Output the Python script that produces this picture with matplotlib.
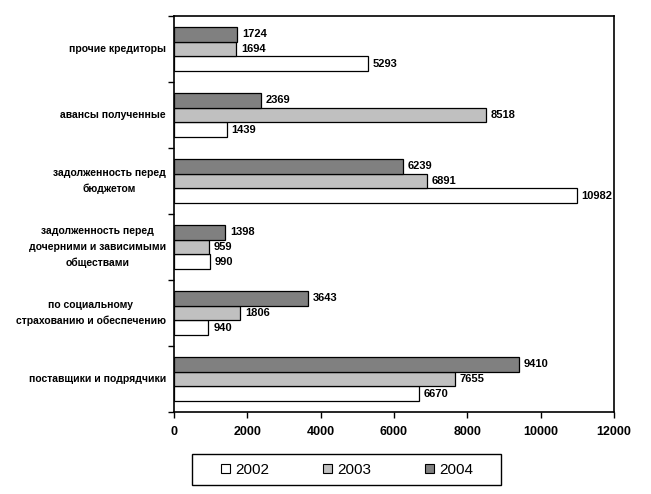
import matplotlib
matplotlib.use("Agg")
import matplotlib.pyplot as plt
import numpy as np
from matplotlib.patches import Patch, Rectangle

categories = [
    "прочие кредиторы",
    "авансы полученные",
    "задолженность перед\nбюджетом",
    "задолженность перед\nдочерними и зависимыми\nобществами",
    "по социальному\nстрахованию и обеспечению",
    "поставщики и подрядчики",
]
years = ["2002", "2003", "2004"]
v2002 = [5293, 1439, 10982, 990, 940, 6670]
v2003 = [1694, 8518, 6891, 959, 1806, 7655]
v2004 = [1724, 2369, 6239, 1398, 3643, 9410]
xticks = [0, 2000, 4000, 6000, 8000, 10000, 12000]

colors = ["#ffffff", "#c0c0c0", "#808080"]
plt.rcParams['font.family'] = ['Liberation Sans', 'DejaVu Sans']

W, H = 651, 494
fig = plt.figure(figsize=(W/100, H/100), dpi=100)
ax = fig.add_axes([174/W, 1-412/H, (614-174)/W, (412-16)/H])

n = len(categories)
pos = np.arange(n)  # 0 at top
h = 0.222
offsets = {"2004": -h, "2003": 0.0, "2002": h}
series = {"2002": v2002, "2003": v2003, "2004": v2004}
for yr, col in zip(years, colors):
    vals = series[yr]
    y = pos + offsets[yr]
    ax.barh(y, vals, height=h, color=col, edgecolor="black", linewidth=0.9, zorder=3)
    for yy, v in zip(y, vals):
        ax.text(v + 130, yy, str(v), va="center", ha="left", fontsize=8, fontweight="bold")

ax.set_ylim(n - 0.5, -0.5)
ax.set_xlim(0, 12000)
ax.set_xticks(xticks)
ax.set_xticklabels([str(t) for t in xticks], fontsize=9, fontweight="bold")
ax.tick_params(axis="x", direction="out", length=4, width=1, pad=6)

ax.set_yticks(np.arange(n + 1) - 0.5)
ax.set_yticklabels([])
ax.tick_params(axis="y", direction="out", length=4, width=1)
for i, c in enumerate(categories):
    ax.text(-8/440, pos[i], c, transform=ax.get_yaxis_transform(), ha="right", va="center",
            multialignment="center", fontsize=7.5, fontweight="bold", linespacing=1.75)

for s in ax.spines.values():
    s.set_linewidth(1.2)

handles = [Patch(facecolor=c, edgecolor="black", linewidth=0.8) for c in colors]
leg = fig.legend(handles, years, loc="center", bbox_to_anchor=(347/W, 1-470/H), ncol=3,
                 frameon=False, fontsize=11,
                 handlelength=0.6, handleheight=0.6, handletextpad=0.35, columnspacing=3.5,
                 borderpad=0.2)
fig.patches.append(Rectangle((192/W, 1-485/H), (501-192)/W, (485-454)/H, transform=fig.transFigure,
                             fill=False, edgecolor="black", linewidth=1.0))

fig.savefig("out.png", dpi=100)
